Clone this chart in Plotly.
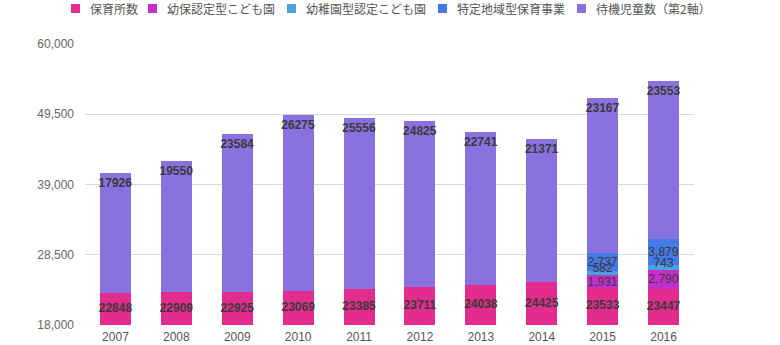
import plotly.graph_objects as go

years = ["2007", "2008", "2009", "2010", "2011", "2012", "2013", "2014", "2015", "2016"]
hoikusho = [22848, 22909, 22925, 23069, 23385, 23711, 24038, 24425, 23533, 23447]
yoho_kodomoen = [None] * 8 + [1931, 2790]
yochien_kodomoen = [None] * 8 + [582, 743]
chiiki_hoiku = [None] * 8 + [2737, 3879]
taiki_jido = [17926, 19550, 23584, 26275, 25556, 24825, 22741, 21371, 23167, 23553]

y_ticks = [18000, 28500, 39000, 49500, 60000]
Y_MIN, Y_MAX = y_ticks[0], y_ticks[-1]

FONT = "Liberation Sans, Arial, Noto Sans CJK JP, sans-serif"
CJK_FONT = "Noto Sans CJK JP, sans-serif"
LABEL_COLOR = "#3a3a3a"
COLORS = ["#e32d8e", "#c52fc9", "#4aa3dc", "#4479e6", "#8a71e0"]
NAMES = ["保育所数", "幼保認定型こども園", "幼稚園型認定こども園", "特定地域型保育事業", "待機児童数（第2軸）"]

# plot area in pixels (used for the hand-drawn legend row)
W, H = 780, 345
ML, MR, MT, MB = 85, 86, 44, 20
PW, PH = W - ML - MR, H - MT - MB

fig = go.Figure()

# stacked bars
bar_specs = [
    (hoikusho, None, None),
    (yoho_kodomoen, "%{y:,d}", "middle"),
    (yochien_kodomoen, None, None),
    (chiiki_hoiku, "%{y:,d}", "middle"),
    (taiki_jido, "<b>%{y:d}</b>", "end"),
]
for (vals, tmpl, anchor), name, color in zip(bar_specs, NAMES, COLORS):
    if tmpl:
        kw = dict(
            texttemplate=tmpl,
            textposition="inside",
            insidetextanchor=anchor,
            constraintext="none",
            textangle=0,
            insidetextfont=dict(family=FONT, size=12, color=LABEL_COLOR),
        )
    else:
        kw = dict(textposition="none")
    fig.add_trace(go.Bar(
        x=years, y=vals, name=name,
        marker=dict(color=color, line=dict(width=0)),
        hoverinfo="skip", showlegend=False, **kw,
    ))

# labels for the base series, centred in the visible part of each bar
fig.add_trace(go.Scatter(
    x=years, y=[(Y_MIN + v) / 2 for v in hoikusho],
    mode="text", text=[f"<b>{v}</b>" for v in hoikusho],
    textposition="middle center",
    textfont=dict(family=FONT, size=12, color=LABEL_COLOR),
    hoverinfo="skip", showlegend=False,
))

# labels for the thin kindergarten-type segment, sitting just above its base
yk_x, yk_y, yk_t = [], [], []
for yr, a, b, c in zip(years, hoikusho, yoho_kodomoen, yochien_kodomoen):
    if c is not None:
        yk_x.append(yr)
        yk_y.append(a + (b or 0))
        yk_t.append(f"{c:,}")
fig.add_trace(go.Scatter(
    x=yk_x, y=yk_y, mode="text", text=yk_t,
    textposition="top center",
    textfont=dict(family=FONT, size=12, color=LABEL_COLOR),
    hoverinfo="skip", showlegend=False,
))

# legend row
legend_px = [71, 148, 287, 438, 577]
shapes, annotations = [], []
for px, name, color in zip(legend_px, NAMES, COLORS):
    shapes.append(dict(
        type="rect", xref="paper", yref="paper",
        x0=(px - ML) / PW, x1=(px + 9 - ML) / PW,
        y0=(H - MB - 13) / PH, y1=(H - MB - 4) / PH,
        fillcolor=color, line=dict(width=0), layer="above",
    ))
    annotations.append(dict(
        xref="paper", yref="paper",
        x=(px + 17 - ML) / PW, y=(H - MB - 8.5) / PH,
        xanchor="left", yanchor="middle", showarrow=False,
        text=name, font=dict(family=CJK_FONT, size=12, color="#555"),
    ))

fig.update_layout(
    width=W, height=H,
    barmode="stack",
    bargap=0.49,
    margin=dict(l=ML, r=MR, t=MT, b=MB),
    paper_bgcolor="white",
    plot_bgcolor="white",
    font=dict(family=FONT, size=12, color="#666"),
    showlegend=False,
    shapes=shapes,
    annotations=annotations,
    xaxis=dict(
        type="category",
        automargin=False,
        showgrid=False,
        showline=False,
        ticks="",
        ticklabelstandoff=3,
        tickfont=dict(size=12, color="#555"),
    ),
    yaxis=dict(
        range=[Y_MIN, Y_MAX],
        automargin=False,
        tickvals=y_ticks,
        tickformat=",d",
        showgrid=True,
        gridcolor="#d9d9d9",
        gridwidth=1,
        zeroline=False,
        showline=False,
        ticks="",
        ticklabelstandoff=10,
        tickfont=dict(size=12, color="#666"),
    ),
)

fig.write_html("out.html")
